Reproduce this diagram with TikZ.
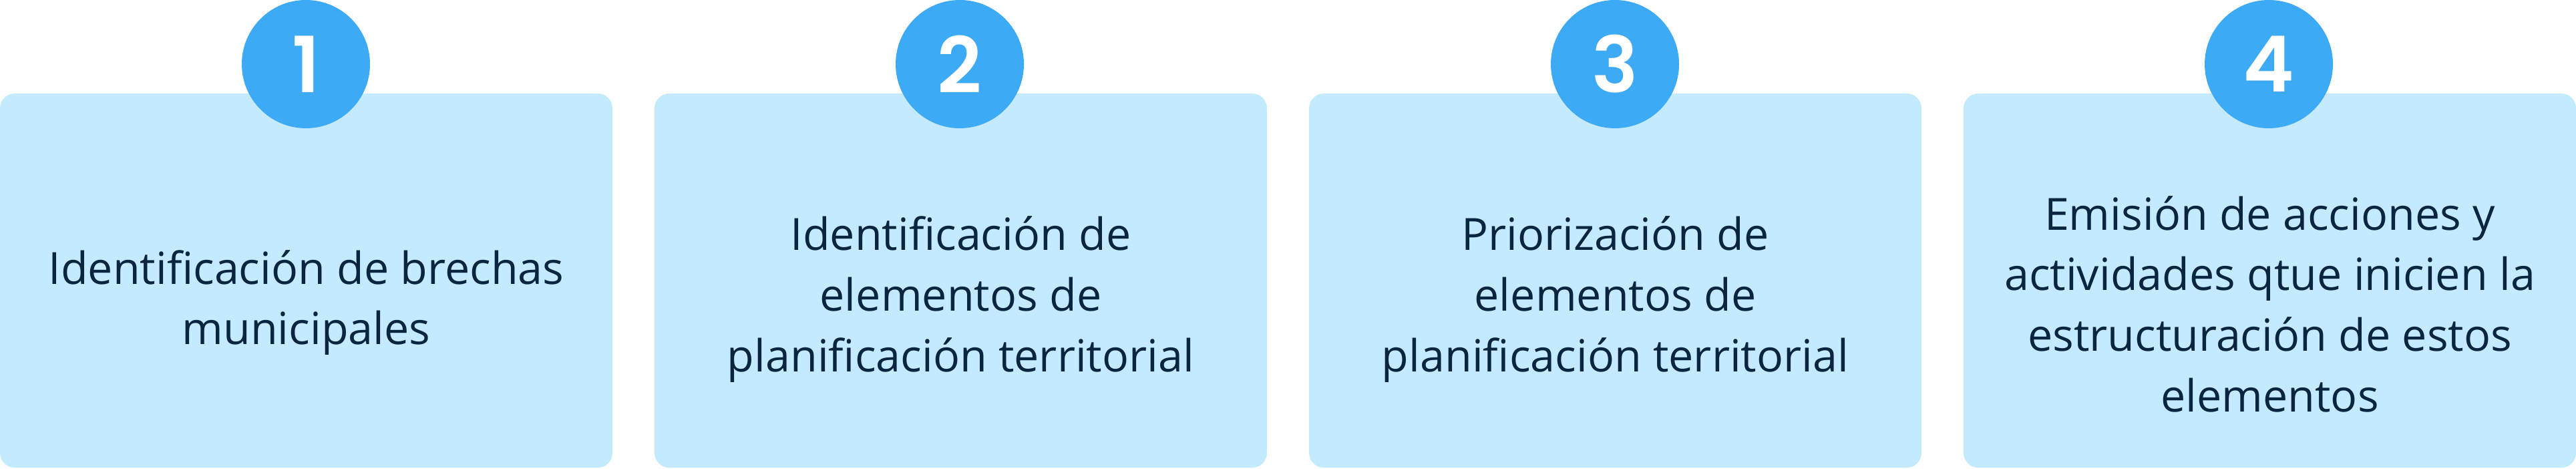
\documentclass[tikz,border=0pt]{standalone}
\usepackage{fontspec}
\setmainfont{Open Sans}
\newfontfamily\numfont{Poppins SemiBold}
\usepackage{tikz}
\definecolor{boxfill}{HTML}{C4EAFD}
\definecolor{dotfill}{HTML}{3DAAF5}
\definecolor{ink}{HTML}{0A2540}
\tikzset{
  stepbox/.style={draw=none, fill=boxfill, rounded corners=0.22cm,
    minimum width=9.17cm, minimum height=5.60cm, inner sep=0pt},
  stepnum/.style={circle, fill=dotfill, minimum size=1.92cm, inner sep=0pt,
    text=white, font=\numfont\fontsize{33pt}{33pt}\selectfont},
  steptext/.style={align=center, text=ink,
    font=\fontsize{18.9pt}{25.8pt}\selectfont}
}

\begin{document}
\begin{tikzpicture}
  \useasboundingbox (0,0) rectangle (38.57,7.02);
  \node[stepbox] (b1) at (4.585,2.82) {};
  \node[stepbox] (b2) at (14.385,2.82) {};
  \node[stepbox] (b3) at (24.185,2.82) {};
  \node[stepbox] (b4) at (33.985,2.82) {};
  \node[stepnum] (n1) at (4.58,6.06) {1};
  \node[stepnum] (n2) at (14.37,6.06) {2};
  \node[stepnum] (n3) at (24.18,6.06) {3};
  \node[stepnum] (n4) at (33.97,6.06) {4};
  \node[steptext] (t1) at (4.585,2.49) {Identificación de brechas\\municipales};
  \node[steptext] (t2) at (14.385,2.54) {Identificación de\\elementos de\\planificación territorial};
  \node[steptext] (t3) at (24.185,2.54) {Priorización de\\elementos de\\planificación territorial};
  \node[steptext] (t4) at (33.985,2.47) {Emisión de acciones y\\actividades qtue inicien la\\estructuración de estos\\elementos};
\end{tikzpicture}
\end{document}
